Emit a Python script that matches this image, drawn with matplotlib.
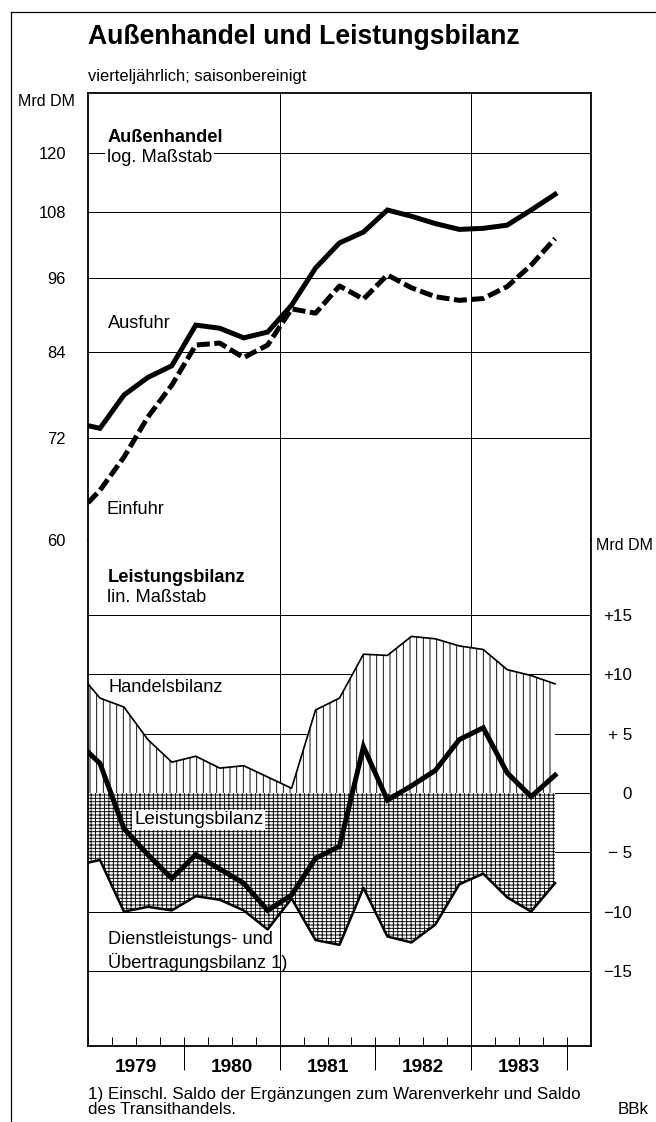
import matplotlib
matplotlib.use("Agg")
import matplotlib.pyplot as plt
from matplotlib.lines import Line2D
from matplotlib.ticker import NullLocator

# ----------------------------------------
# Daten (vierteljährlich, saisonbereinigt)
# ----------------------------------------

quarters = ["1978Q4",
            "1979Q1", "1979Q2", "1979Q3", "1979Q4",
            "1980Q1", "1980Q2", "1980Q3", "1980Q4",
            "1981Q1", "1981Q2", "1981Q3", "1981Q4",
            "1982Q1", "1982Q2", "1982Q3", "1982Q4",
            "1983Q1", "1983Q2", "1983Q3", "1983Q4"]

ausfuhr = [74.0,
           73.3, 77.8, 80.3, 82.0,
           88.2, 87.7, 86.2, 87.1,
           91.4, 97.7, 102.2, 104.2,
           108.4, 107.2, 105.8, 104.7,
           104.9, 105.5, 108.4, 111.5]

einfuhr = [62.7,
           65.6, 69.6, 74.8, 79.2,
           85.1, 85.4, 83.2, 85.1,
           90.8, 90.1, 94.6, 92.4,
           96.5, 94.3, 92.8, 92.2,
           92.5, 94.5, 98.2, 103.0]

handelsbilanz = [10.4,
                 8.0, 7.25, 4.5, 2.6,
                 3.1, 2.1, 2.3, 1.35,
                 0.4, 7.0, 8.0, 11.7,
                 11.6, 13.2, 13.0, 12.4,
                 12.1, 10.4, 9.9, 9.2]

dienst_uebertr = [-6.1,
                  -5.65, -10.0, -9.6, -9.9,
                  -8.7, -9.0, -9.9, -11.5,
                  -8.9, -12.4, -12.8, -8.0,
                  -12.1, -12.6, -11.1, -7.7,
                  -6.8, -8.8, -10.0, -7.6]

leistungsbilanz = [4.4,
                   2.5, -3.0, -5.2, -7.2,
                   -5.2, -6.4, -7.6, -9.9,
                   -8.6, -5.5, -4.5, 3.9,
                   -0.6, 0.6, 1.9, 4.5,
                   5.5, 1.7, -0.3, 1.5]

years = [1979, 1980, 1981, 1982, 1983]
grid_years = [1981, 1983]

log_ticks = [60, 72, 84, 96, 108, 120]
lin_ticks = [-15, -10, -5, 0, 5, 10, 15]
lin_labels = ["\u221215", "\u221210", "\u2212 5", "0", "+ 5", "+10", "+15"]

# Quartalsmitte als x-Position
x = [int(q[:4]) + (int(q[5]) - 0.5) / 4 for q in quarters]

# ----------------------------------------
# Layout (Pixel -> Figurkoordinaten)
# ----------------------------------------

DPI = 80
W, H = 656, 1122
PT = 72 / DPI   # Punkte pro Pixel


def fx(px):
    return px / W


def fy(py):
    return 1 - py / H


plt.rcParams["font.family"] = ["Liberation Sans", "DejaVu Sans"]
plt.rcParams["hatch.linewidth"] = 0.9 * PT
plt.rcParams["hatch.color"] = "black"

fig = plt.figure(figsize=(W / DPI, H / DPI), dpi=DPI)

LEFT, RIGHT = 88, 591
TOP, MID, BOTTOM = 93, 540, 1046

ax1 = fig.add_axes([fx(LEFT), fy(MID), (RIGHT - LEFT) / W, (MID - TOP) / H])
ax2 = fig.add_axes([fx(LEFT), fy(BOTTOM), (RIGHT - LEFT) / W,
                    (BOTTOM - MID) / H])

frame_lw = 1.8 * PT
grid_lw = 1.0 * PT
fs_tick = 16.5 * PT
fs_lab = 18.3 * PT

# ----------------------------------------
# Oberer Teil: Außenhandel (log. Maßstab)
# ----------------------------------------

ax1.set_yscale("log")
ax1.set_xlim(1979.0, 1984.25)
ax1.set_ylim(60, 133.7)
ax1.set_yticks(log_ticks, labels=[str(t) for t in log_ticks])
ax1.yaxis.set_minor_locator(NullLocator())
ax1.set_xticks([])
ax1.tick_params(axis="y", length=0, pad=22 * PT, labelsize=fs_tick)
ax1.grid(axis="y", color="black", linewidth=grid_lw)
for g in grid_years:
    ax1.axvline(g, color="black", linewidth=grid_lw, zorder=0.5)
ax1.set_axisbelow(True)
for side in ["left", "right", "top"]:
    ax1.spines[side].set_linewidth(frame_lw)
ax1.spines["bottom"].set_linewidth(grid_lw)

ax1.plot(x, ausfuhr, color="black", linewidth=5 * PT,
         solid_joinstyle="miter", zorder=3)
ax1.plot(x, einfuhr, color="black", linewidth=5 * PT,
         linestyle=(0, (2.6, 0.9)), zorder=3)

# ----------------------------------------
# Unterer Teil: Leistungsbilanz (lin. Maßstab)
# ----------------------------------------

ax2.set_xlim(1979.0, 1984.25)
ax2.set_ylim(-21.33, 21.33)
ax2.set_yticks(lin_ticks, labels=lin_labels)
ax2.yaxis.tick_right()
ax2.tick_params(axis="y", length=0, pad=41 * PT, labelsize=fs_tick + 0.5)
for lab in ax2.get_yticklabels():
    lab.set_horizontalalignment("right")
ax2.grid(axis="y", color="black", linewidth=grid_lw)
for g in grid_years:
    ax2.axvline(g, color="black", linewidth=grid_lw, zorder=0.5)
ax2.set_axisbelow(True)
ax2.spines["top"].set_visible(False)
for side in ["left", "right", "bottom"]:
    ax2.spines[side].set_linewidth(frame_lw)

ax2.fill_between(x, 0, handelsbilanz, facecolor="white", edgecolor="black",
                 linewidth=0, hatch="||", zorder=1)
ax2.fill_between(x, 0, dienst_uebertr, facecolor="white", edgecolor="black",
                 linewidth=0, hatch="+++-", zorder=1)
ax2.plot(x, handelsbilanz, color="black", linewidth=1.7 * PT, zorder=2)
ax2.plot(x, dienst_uebertr, color="black", linewidth=2.5 * PT, zorder=2)
ax2.plot(x, leistungsbilanz, color="black", linewidth=5 * PT,
         solid_joinstyle="miter", zorder=4)

# x-Achse: Jahreszahlen, Quartalsstriche innen, Jahresstriche außen
ax2.set_xticks([y + 0.5 for y in years], labels=[str(y) for y in years])
ax2.tick_params(axis="x", length=0, pad=13 * PT, labelsize=19 * PT)
for lab in ax2.get_xticklabels():
    lab.set_fontweight("bold")
ax2.set_xticks([y + q / 4 for y in years for q in range(4)] + [1984],
               minor=True)
ax2.xaxis.remove_overlapping_locs = False
ax2.tick_params(axis="x", which="minor", direction="in", length=9 * PT,
                width=grid_lw)
sec = ax2.secondary_xaxis("bottom")
sec.set_xticks([y + 1 for y in years[:-1]] + [1984], labels=[])
sec.tick_params(axis="x", direction="out", length=24 * PT, width=grid_lw)
sec.spines["bottom"].set_visible(False)

# ----------------------------------------
# Beschriftungen
# ----------------------------------------

fig.text(fx(88), fy(37), "Außenhandel und Leistungsbilanz",
         fontsize=26.5 * PT, fontweight="bold", va="center")
fig.text(fx(88), fy(76), "vierteljährlich; saisonbereinigt",
         fontsize=16.5 * PT, va="center")
fig.text(fx(18), fy(102), "Mrd DM", fontsize=16 * PT, va="center")
fig.text(fx(596), fy(545), "Mrd DM", fontsize=16 * PT, va="center")

fig.text(fx(108), fy(137), "Außenhandel", fontsize=fs_lab,
         fontweight="bold", va="center")
fig.text(fx(107), fy(157), "log. Maßstab", fontsize=fs_lab, va="center",
         bbox=dict(facecolor="white", edgecolor="none", pad=1.5))
fig.text(fx(108), fy(323), "Ausfuhr", fontsize=fs_lab, va="center")
fig.text(fx(107), fy(509), "Einfuhr", fontsize=fs_lab, va="center")

fig.text(fx(108), fy(578), "Leistungsbilanz", fontsize=fs_lab,
         fontweight="bold", va="center")
fig.text(fx(107), fy(598), "lin. Maßstab", fontsize=fs_lab, va="center")
fig.text(fx(108), fy(688), "Handelsbilanz", fontsize=fs_lab, va="center")
fig.text(fx(134), fy(820), "Leistungsbilanz", fontsize=fs_lab + 0.5,
         va="center", zorder=5,
         bbox=dict(facecolor="white", edgecolor="none", pad=1.5))
fig.text(fx(108), fy(939), "Dienstleistungs- und", fontsize=fs_lab,
         va="center")
fig.text(fx(108), fy(963), "Übertragungsbilanz 1)", fontsize=fs_lab,
         va="center")

fig.text(fx(88), fy(1094),
         "1) Einschl. Saldo der Ergänzungen zum Warenverkehr und Saldo",
         fontsize=17 * PT, va="center")
fig.text(fx(88), fy(1110), "des Transithandels.", fontsize=17 * PT,
         va="center")
fig.text(fx(618), fy(1110), "BBk", fontsize=17 * PT, va="center")

# Seitenrahmen
fig.add_artist(Line2D([fx(11), fx(11)], [fy(12), 0], color="black",
                      linewidth=1.2 * PT, transform=fig.transFigure))
fig.add_artist(Line2D([fx(11), 1], [fy(12), fy(12)], color="black",
                      linewidth=1.2 * PT, transform=fig.transFigure))

fig.savefig("out.png", dpi=DPI)
